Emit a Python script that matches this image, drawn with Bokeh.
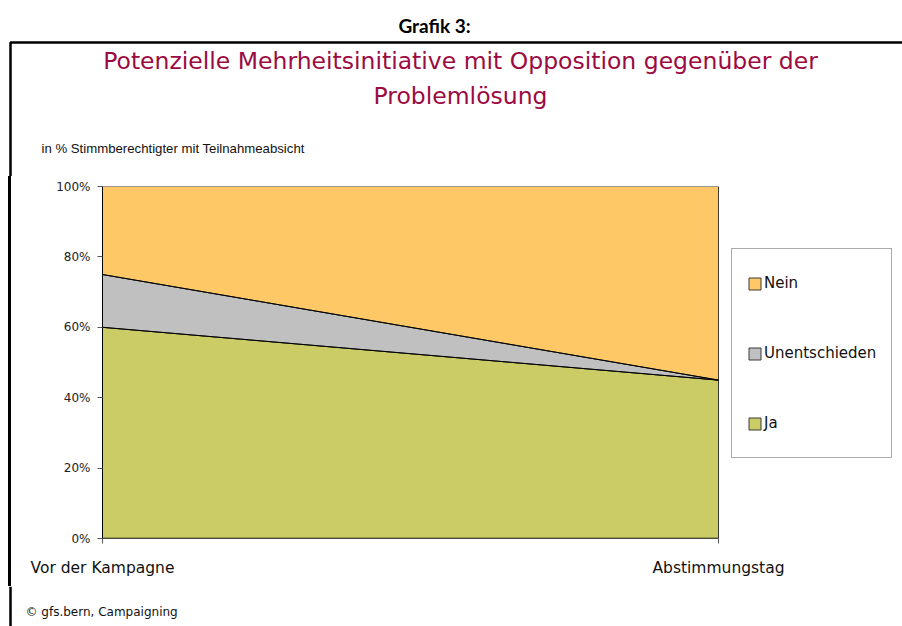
from bokeh.plotting import figure
from bokeh.layouts import column
from bokeh.models import (Range1d, Label, Legend, LegendItem, BoxAnnotation, Span,
                          FixedTicker)
from bokeh.embed import file_html
from bokeh.resources import INLINE

# ---- data ----
periods = ["Vor der Kampagne", "Abstimmungstag"]
ja = [60, 45]
unentschieden = [15, 0]
nein = [25, 55]
series_names = ["Ja", "Unentschieden", "Nein"]
series_colors = ["#CCCC66", "#C0C0C0", "#FFC866"]
y_ticks = [0, 20, 40, 60, 80, 100]

super_title = "Grafik 3:"
title_lines = ["Potenzielle Mehrheitsinitiative mit Opposition gegenüber der",
               "Problemlösung"]
subtitle = "in %  Stimmberechtigter mit Teilnahmeabsicht"
footer = "© gfs.bern, Campaigning"

# ---- page geometry (px) ----
W, H = 902, 626
TOP_H, BOT_H = 176, 40
MID_H = H - TOP_H - BOT_H
PLOT_L, PLOT_R, PLOT_T, PLOT_B = 102, 718, 186, 538   # plot area
FRAME_R = 894                                          # frame incl. legend room
BORDER_X, BORDER_Y = 10, 42


def aux_fig(w, h):
    f = figure(width=w, height=h, x_range=Range1d(0, w), y_range=Range1d(h, 0),
               output_backend="svg", toolbar_location=None, title=None,
               x_axis_location=None, y_axis_location=None, min_border=0,
               background_fill_color="white", border_fill_color="white",
               frame_align=False)
    f.outline_line_color = None
    f.grid.visible = False
    return f


# ---- top part: headings ----
top = aux_fig(W, TOP_H)
top.add_layout(BoxAnnotation(left=BORDER_X, right=5000, top=BORDER_Y, bottom=5000,
                             fill_alpha=0, line_color="black", line_alpha=1,
                             line_width=2.5))
top.add_layout(Label(x=434, y=25, text=super_title, text_align="center",
                     text_baseline="middle", text_font="Lato", text_font_style="bold",
                     text_font_size="19px", text_color="#000000"))
for i, line in enumerate(title_lines):
    top.add_layout(Label(x=460, y=60 + 35 * i, text=line, text_align="center",
                         text_baseline="middle", text_font="DejaVu Sans",
                         text_font_size="23.5px", text_color="#9C0A42"))
top.add_layout(Label(x=41, y=148, text=subtitle, text_align="left",
                     text_baseline="middle", text_font="Liberation Sans",
                     text_font_size="13.2px", text_color="#111111"))

# ---- main chart ----
x_end = (FRAME_R - PLOT_L) / (PLOT_R - PLOT_L)   # x=1 lands on the plot area's right edge
p = figure(width=W, height=MID_H, x_range=Range1d(0, x_end), y_range=Range1d(0, 100),
           output_backend="svg", toolbar_location=None, title=None,
           min_border_left=PLOT_L, min_border_right=W - FRAME_R,
           min_border_top=PLOT_T - TOP_H, min_border_bottom=TOP_H + MID_H - PLOT_B,
           background_fill_color="white", border_fill_color="white",
           border_fill_alpha=0, background_fill_alpha=0, frame_align=False)
p.styles = {"background": "linear-gradient(90deg, #ffffff 0px, #ffffff 8.5px, "
                          "#000000 8.5px, #000000 11.5px, #ffffff 11.5px)"}
p.grid.visible = False
p.outline_line_color = None

xs = list(range(len(periods)))
layers = [ja, unentschieden, nein]
lower = [0] * len(xs)
renderers = []
tops = []
for vals, name, col in zip(layers, series_names, series_colors):
    upper = [lo + v for lo, v in zip(lower, vals)]
    r = p.patch(x=xs + xs[::-1], y=upper + lower[::-1], fill_color=col,
                line_color="#3A3A3A", line_width=1)
    renderers.append(r)
    tops.append(upper)
    lower = upper
for upper in tops[:-1]:
    p.line(x=xs, y=upper, line_color="#000000", line_width=1)
p.line(x=xs, y=[0] * len(xs), line_color="#000000", line_width=1.5)

p.xaxis.ticker = FixedTicker(ticks=xs)
p.xaxis.major_label_overrides = {x: lab for x, lab in zip(xs, periods)}
p.xaxis.major_label_text_font = "DejaVu Sans"
p.xaxis.major_label_text_font_size = "15.5px"
p.xaxis.major_label_text_color = "#111111"
p.xaxis.major_label_standoff = 15
p.xaxis.major_tick_out = 5
p.xaxis.major_tick_in = 0
p.xaxis.minor_tick_line_color = None
p.xaxis.axis_line_color = None
p.xaxis.major_tick_line_color = "#555555"

p.yaxis.ticker = FixedTicker(ticks=y_ticks)
p.yaxis.major_label_overrides = {t: f"{t}%" for t in y_ticks}
p.yaxis.major_label_text_font = "DejaVu Sans"
p.yaxis.major_label_text_font_size = "12px"
p.yaxis.major_label_text_color = "#222222"
p.yaxis.major_label_standoff = 7
p.yaxis.major_tick_out = 5
p.yaxis.major_tick_in = 0
p.yaxis.minor_tick_line_color = None
p.yaxis.axis_line_color = "#000000"
p.yaxis.major_tick_line_color = "#555555"

items = [LegendItem(label=n, renderers=[r]) for n, r in zip(series_names, renderers)][::-1]
legend = Legend(items=items, location=(731 - PLOT_L, PLOT_B - 458), margin=0,
                padding=15, spacing=32, glyph_width=15, glyph_height=15,
                label_height=38, label_standoff=2, label_text_font="DejaVu Sans",
                label_text_font_size="15px", label_text_color="#111111",
                border_line_color="#555555", border_line_width=1,
                background_fill_color="white", background_fill_alpha=1)
p.add_layout(legend, "center")

# ---- bottom: footer ----
bottom = aux_fig(W, BOT_H)
bottom.add_layout(Span(location=BORDER_X, dimension="height", line_color="black",
                       line_width=2.5))
bottom.add_layout(Label(x=25, y=611 - (H - BOT_H), text=footer, text_align="left",
                        text_baseline="middle", text_font="DejaVu Sans",
                        text_font_size="12px", text_color="#111111"))

page = column(top, p, bottom)
open("out.html", "w").write(file_html(page, INLINE))
